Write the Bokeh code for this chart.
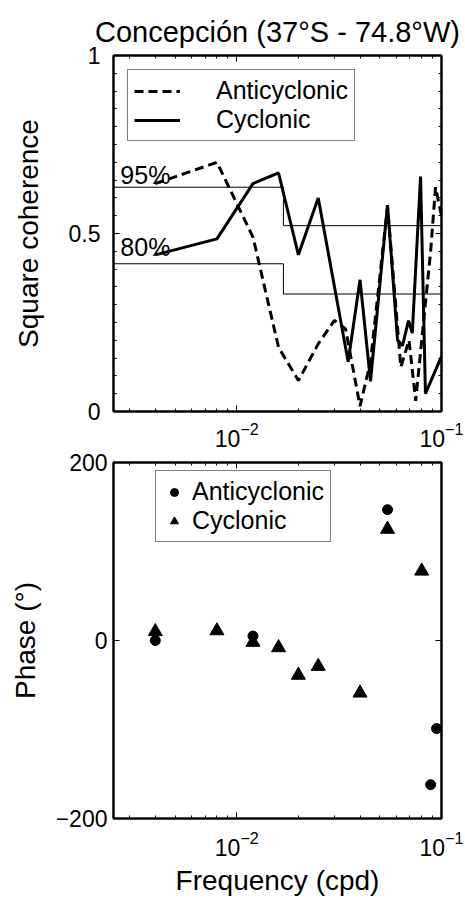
from bokeh.plotting import figure
from bokeh.models import (Range1d, FixedTicker, LogAxis, LinearAxis, Legend,
                          LegendItem, Label, LogTickFormatter)
from bokeh.layouts import column
from bokeh.embed import file_html
from bokeh.resources import INLINE

FONT = "Liberation Sans"

# ---------------- data ----------------
title_text = "Concepción (37°S - 74.8°W)"

# square coherence, anticyclonic (dashed)
coh_freq_anti = [0.004, 0.008, 0.012, 0.016, 0.020, 0.025, 0.030, 0.034, 0.040,
                 0.045, 0.0545, 0.0633, 0.0694, 0.0748, 0.0885, 0.0935, 0.1]
coh_anti = [0.64, 0.70, 0.49, 0.18, 0.087, 0.19, 0.256, 0.232, 0.015,
            0.14, 0.575, 0.125, 0.20, 0.03, 0.45, 0.63, 0.55]

# square coherence, cyclonic (solid)
coh_freq_cyc = [0.004, 0.008, 0.012, 0.016, 0.020, 0.025, 0.035, 0.040, 0.045,
                0.0545, 0.061, 0.0645, 0.069, 0.072, 0.079, 0.0835, 0.1]
coh_cyc = [0.44, 0.485, 0.64, 0.67, 0.44, 0.60, 0.14, 0.37, 0.085,
           0.58, 0.20, 0.185, 0.255, 0.22, 0.66, 0.05, 0.155]

# significance levels (step)
thr_freq = [0.0025, 0.0169, 0.0169, 0.1]
thr_95 = [0.63, 0.63, 0.522, 0.522]
thr_80 = [0.415, 0.415, 0.33, 0.33]
thr_labels = ["95%", "80%"]
thr_label_freq = [0.0027, 0.0027]
thr_label_val = [0.663, 0.4615]

# phase
ph_freq_anti = [0.004, 0.012, 0.0545, 0.0885, 0.0946]
ph_anti = [0, 5, 147, -162, -99]
ph_freq_cyc = [0.004, 0.008, 0.012, 0.016, 0.020, 0.025, 0.040, 0.0545, 0.080]
ph_cyc = [10, 11, -2, -8, -39, -29, -59, 125, 78]

series_names = ["Anticyclonic", "Cyclonic"]

x_major = [0.01, 0.1]
x_minor = [m * 10.0 ** e for e in (-3, -2) for m in range(2, 10)]
coh_ticks = [0, 0.5, 1]
coh_minor = [round(0.05 * i, 2) for i in range(21)]
ph_ticks = [-200, 0, 200]

FRAME_W, FRAME_H = 328, 356


def style_axis(ax, label_size="23px", standoff=10, hidden=False):
    ax.axis_line_color = "black"
    ax.axis_line_width = 2
    ax.major_tick_in = 6
    ax.major_tick_out = 0
    ax.minor_tick_in = 3
    ax.minor_tick_out = 0
    ax.major_tick_line_color = "black"
    ax.minor_tick_line_color = "black"
    ax.major_tick_line_width = 1
    ax.minor_tick_line_width = 1
    ax.major_label_text_font = FONT
    ax.major_label_text_font_size = label_size
    ax.major_label_text_color = None if hidden else "black"
    ax.major_label_standoff = standoff
    ax.axis_label_text_font = FONT
    ax.axis_label_text_font_size = "28px"
    ax.axis_label_text_font_style = "normal"
    ax.axis_label_text_color = "black"


def make_fig(y_range, top, bottom, yticker, y_overrides=None, y_standoff=10,
             ylabel="", ylabel_standoff=10, xlabel=None, x_standoff=12,
             top_gap=0):
    p = figure(x_axis_type="log", x_range=Range1d(0.0025, 0.1), y_range=y_range,
               frame_width=FRAME_W, frame_height=FRAME_H,
               min_border_left=113, min_border_right=24,
               min_border_top=top, min_border_bottom=bottom,
               output_backend="svg", toolbar_location=None,
               background_fill_color="white", border_fill_color="white")
    p.grid.visible = False
    p.outline_line_color = "black"
    p.outline_line_width = 2

    xt = FixedTicker(ticks=x_major, minor_ticks=x_minor)
    p.xaxis.ticker = xt
    p.xaxis.formatter = LogTickFormatter()
    style_axis(p.xaxis[0], standoff=x_standoff)
    if xlabel:
        p.xaxis.axis_label = xlabel
        p.xaxis.axis_label_standoff = 6

    p.yaxis.ticker = yticker
    if y_overrides:
        p.yaxis.major_label_overrides = y_overrides
    style_axis(p.yaxis[0], standoff=y_standoff)
    p.yaxis.axis_label = ylabel
    p.yaxis.axis_label_standoff = ylabel_standoff

    top_ax = LogAxis(ticker=xt)
    style_axis(top_ax, label_size="1px", standoff=top_gap, hidden=True)
    p.add_layout(top_ax, "above")
    right_ax = LinearAxis(ticker=yticker)
    style_axis(right_ax, label_size="1px", standoff=0, hidden=True)
    p.add_layout(right_ax, "right")
    return p


# ---------------- top: square coherence ----------------
p1 = make_fig(Range1d(0, 1), 55, 49,
              FixedTicker(ticks=coh_ticks, minor_ticks=coh_minor),
              y_overrides={0: "0", 0.5: "0.5", 1: "1"}, y_standoff=13,
              ylabel="Square coherence", ylabel_standoff=22, x_standoff=10,
              top_gap=5)
p1.title.text = title_text
p1.title.align = "center"
p1.title.text_font = FONT
p1.title.text_font_size = "29px"
p1.title.text_font_style = "normal"
p1.title.text_color = "black"
p1.title.text_line_height = 0.8
p1.title.standoff = 16

p1.line(thr_freq, thr_95, line_color="black", line_width=1)
p1.line(thr_freq, thr_80, line_color="black", line_width=1)
for t, xf, yv in zip(thr_labels, thr_label_freq, thr_label_val):
    p1.add_layout(Label(x=xf, y=yv, text=t, text_font=FONT, text_font_size="25px",
                        text_color="black", text_baseline="alphabetic"))

r_anti = p1.line(coh_freq_anti, coh_anti, line_color="black", line_width=3,
                 line_dash="9 5")
r_cyc = p1.line(coh_freq_cyc, coh_cyc, line_color="black", line_width=3)

leg1 = Legend(items=[LegendItem(label=series_names[0], renderers=[r_anti]),
                     LegendItem(label=series_names[1], renderers=[r_cyc])],
              location="top_left", margin=14, padding=6, spacing=0,
              glyph_width=46, glyph_height=20, label_standoff=36,
              label_text_font=FONT, label_text_font_size="25px",
              label_text_color="black",
              border_line_color="black", border_line_width=1,
              background_fill_color="white", background_fill_alpha=1)
p1.add_layout(leg1)

# ---------------- bottom: phase ----------------
p2 = make_fig(Range1d(-200, 200), 14, 82,
              FixedTicker(ticks=ph_ticks, minor_ticks=[]),
              y_standoff=6, ylabel="Phase (°)", ylabel_standoff=12,
              xlabel="Frequency (cpd)")
p2.border_fill_alpha = 0
p2.styles = {"margin-top": "-12px"}

r_pa = p2.scatter(ph_freq_anti, ph_anti, marker="circle", size=10,
                  fill_color="black", line_color="black")
r_pc = p2.scatter(ph_freq_cyc, ph_cyc, marker="triangle", size=14,
                  fill_color="black", line_color="black")

leg2 = Legend(items=[LegendItem(label=series_names[0], renderers=[r_pa]),
                     LegendItem(label=series_names[1], renderers=[r_pc])],
              location=(42, 276), padding=6, spacing=0,
              glyph_width=24, glyph_height=20, label_standoff=6,
              label_text_font=FONT, label_text_font_size="25px",
              label_text_color="black",
              border_line_color="black", border_line_width=1,
              background_fill_color="white", background_fill_alpha=1)
p2.add_layout(leg2)

layout = column(p1, p2, spacing=0)
open("out.html", "w").write(file_html(layout, INLINE))
